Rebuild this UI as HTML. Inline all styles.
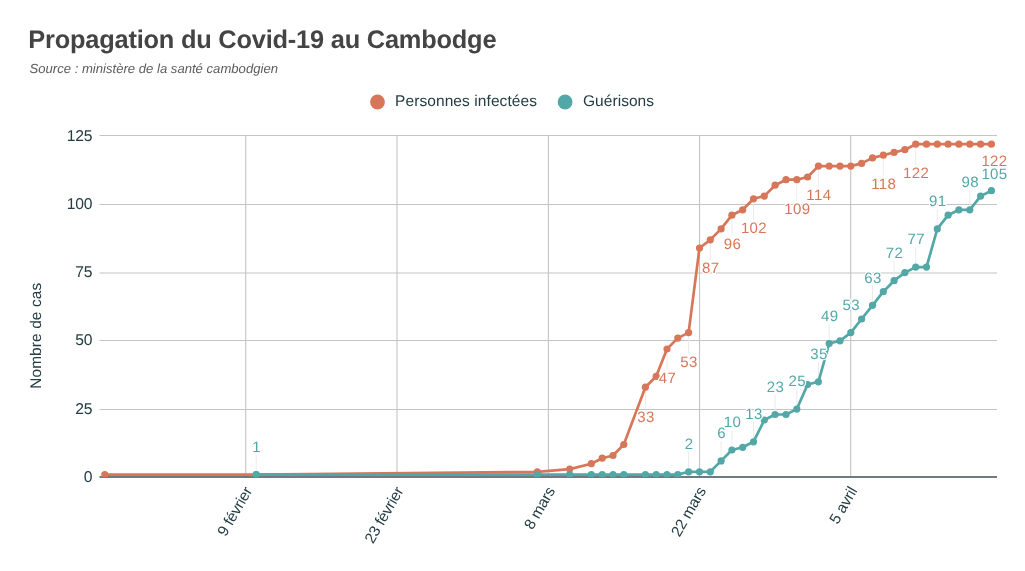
<!DOCTYPE html>
<html lang="fr"><head><meta charset="utf-8"><title>Propagation du Covid-19 au Cambodge</title>
<style>html,body{margin:0;padding:0;background:#fff}svg{display:block}</style></head>
<body>
<svg width="1025" height="571" viewBox="0 0 1025 571" font-family="'Liberation Sans', sans-serif" text-rendering="geometricPrecision">
<rect width="1025" height="571" fill="#fff"/>
<text x="28.3" y="48.4" font-size="25.4" font-weight="bold" fill="#444" textLength="468.2" lengthAdjust="spacing">Propagation du Covid-19 au Cambodge</text>
<text x="29.5" y="73" font-size="13.1" font-style="italic" fill="#5c5c5c" textLength="248.5" lengthAdjust="spacing">Source : ministère de la santé cambodgien</text>
<circle cx="377.5" cy="102" r="7.4" fill="#d77658"/>
<text x="395" y="105.8" font-size="15.5" fill="#233d42" textLength="142" lengthAdjust="spacing">Personnes infectées</text>
<circle cx="565.1" cy="102" r="7.4" fill="#53a7a7"/>
<text x="583" y="105.8" font-size="15.5" fill="#233d42" textLength="71" lengthAdjust="spacing">Guérisons</text>
<line x1="99.5" x2="997" y1="135.45" y2="135.45" stroke="#c4c4c4" stroke-width="1.1"/>
<line x1="99.5" x2="997" y1="204.45" y2="204.45" stroke="#c4c4c4" stroke-width="1.1"/>
<line x1="99.5" x2="997" y1="273.0" y2="273.0" stroke="#c4c4c4" stroke-width="1.1"/>
<line x1="99.5" x2="997" y1="340.5" y2="340.5" stroke="#c4c4c4" stroke-width="1.1"/>
<line x1="99.5" x2="997" y1="409.45" y2="409.45" stroke="#c4c4c4" stroke-width="1.1"/>
<line x1="245.7" x2="245.7" y1="135" y2="477" stroke="#c4c4c4" stroke-width="1.1"/>
<line x1="397.0" x2="397.0" y1="135" y2="477" stroke="#c4c4c4" stroke-width="1.1"/>
<line x1="548.4" x2="548.4" y1="135" y2="477" stroke="#c4c4c4" stroke-width="1.1"/>
<line x1="699.5" x2="699.5" y1="135" y2="477" stroke="#c4c4c4" stroke-width="1.1"/>
<line x1="850.7" x2="850.7" y1="135" y2="477" stroke="#c4c4c4" stroke-width="1.1"/>
<line x1="99.5" x2="997" y1="477" y2="477" stroke="#3f4f53" stroke-width="1.4"/>
<text x="92.4" y="482" font-size="15.7" text-anchor="end" fill="#233d42" letter-spacing="-0.2">0</text>
<text x="92.4" y="414" font-size="15.7" text-anchor="end" fill="#233d42" letter-spacing="-0.2">25</text>
<text x="92.4" y="344.8" font-size="15.7" text-anchor="end" fill="#233d42" letter-spacing="-0.2">50</text>
<text x="92.4" y="277" font-size="15.7" text-anchor="end" fill="#233d42" letter-spacing="-0.2">75</text>
<text x="92.4" y="208.6" font-size="15.7" text-anchor="end" fill="#233d42" letter-spacing="-0.2">100</text>
<text x="92.4" y="141" font-size="15.7" text-anchor="end" fill="#233d42" letter-spacing="-0.2">125</text>
<text transform="translate(41.4,335.8) rotate(-90)" font-size="15.4" text-anchor="middle" fill="#233d42" textLength="106" lengthAdjust="spacing">Nombre de cas</text>
<text transform="translate(252.7,490.7) rotate(-60)" font-size="15.4" letter-spacing="-0.2" text-anchor="end" fill="#233d42">9 février</text>
<text transform="translate(404.0,490.7) rotate(-60)" font-size="15.4" letter-spacing="-0.2" text-anchor="end" fill="#233d42">23 février</text>
<text transform="translate(555.4,490.7) rotate(-60)" font-size="15.4" letter-spacing="-0.2" text-anchor="end" fill="#233d42">8 mars</text>
<text transform="translate(706.5,490.7) rotate(-60)" font-size="15.4" letter-spacing="-0.2" text-anchor="end" fill="#233d42">22 mars</text>
<text transform="translate(857.7,490.7) rotate(-60)" font-size="15.4" letter-spacing="-0.2" text-anchor="end" fill="#233d42">5 avril</text>
<clipPath id="plot"><rect x="99" y="130" width="899" height="347.2"/></clipPath>
<line x1="645.4" x2="645.4" y1="390.7" y2="408.2" stroke="#ebebeb" stroke-width="1"/>
<line x1="667.0" x2="667.0" y1="352.5" y2="369.8" stroke="#ebebeb" stroke-width="1"/>
<line x1="688.6" x2="688.6" y1="336.1" y2="353.3" stroke="#ebebeb" stroke-width="1"/>
<line x1="710.3" x2="710.3" y1="243.3" y2="259.9" stroke="#ebebeb" stroke-width="1"/>
<line x1="731.9" x2="731.9" y1="218.7" y2="235.5" stroke="#ebebeb" stroke-width="1"/>
<line x1="753.5" x2="753.5" y1="202.3" y2="219.7" stroke="#ebebeb" stroke-width="1"/>
<line x1="796.8" x2="796.8" y1="183.2" y2="200.7" stroke="#ebebeb" stroke-width="1"/>
<line x1="818.4" x2="818.4" y1="169.6" y2="186.7" stroke="#ebebeb" stroke-width="1"/>
<line x1="883.3" x2="883.3" y1="158.7" y2="175.5" stroke="#ebebeb" stroke-width="1"/>
<line x1="915.7" x2="915.7" y1="147.7" y2="164.8" stroke="#ebebeb" stroke-width="1"/>
<line x1="256.2" x2="256.2" y1="454.7" y2="471.1" stroke="#ebebeb" stroke-width="1"/>
<line x1="688.6" x2="688.6" y1="452.0" y2="468.3" stroke="#ebebeb" stroke-width="1"/>
<line x1="721.1" x2="721.1" y1="441.4" y2="457.4" stroke="#ebebeb" stroke-width="1"/>
<line x1="731.9" x2="731.9" y1="430.0" y2="446.5" stroke="#ebebeb" stroke-width="1"/>
<line x1="753.5" x2="753.5" y1="422.0" y2="438.3" stroke="#ebebeb" stroke-width="1"/>
<line x1="775.1" x2="775.1" y1="394.7" y2="411.0" stroke="#ebebeb" stroke-width="1"/>
<line x1="796.8" x2="796.8" y1="389.1" y2="405.6" stroke="#ebebeb" stroke-width="1"/>
<line x1="818.4" x2="818.4" y1="361.9" y2="378.2" stroke="#ebebeb" stroke-width="1"/>
<line x1="829.2" x2="829.2" y1="323.8" y2="340.0" stroke="#ebebeb" stroke-width="1"/>
<line x1="850.8" x2="850.8" y1="312.6" y2="329.1" stroke="#ebebeb" stroke-width="1"/>
<line x1="872.5" x2="872.5" y1="285.5" y2="301.8" stroke="#ebebeb" stroke-width="1"/>
<line x1="894.1" x2="894.1" y1="261.2" y2="277.2" stroke="#ebebeb" stroke-width="1"/>
<line x1="915.7" x2="915.7" y1="247.2" y2="263.6" stroke="#ebebeb" stroke-width="1"/>
<line x1="937.3" x2="937.3" y1="209.2" y2="225.4" stroke="#ebebeb" stroke-width="1"/>
<line x1="969.8" x2="969.8" y1="190.2" y2="206.3" stroke="#ebebeb" stroke-width="1"/>
<g clip-path="url(#plot)">
<polyline fill="none" stroke="#d77658" stroke-width="2.7" stroke-linejoin="round" points="104.8,474.6 256.2,474.6 537.3,471.8 569.7,469.1 591.3,463.7 602.2,458.2 613.0,455.5 623.8,444.5 645.4,387.2 656.2,376.3 667.0,349.0 677.8,338.1 688.6,332.6 699.5,248.0 710.3,239.8 721.1,228.9 731.9,215.2 742.7,209.8 753.5,198.8 764.3,196.1 775.1,185.2 786.0,179.7 796.8,179.7 807.6,177.0 818.4,166.1 829.2,166.1 840.0,166.1 850.8,166.1 861.6,163.4 872.5,157.9 883.3,155.2 894.1,152.4 904.9,149.7 915.7,144.2 926.5,144.2 937.3,144.2 948.1,144.2 958.9,144.2 969.8,144.2 980.6,144.2 991.4,144.2"/>
<circle cx="104.8" cy="474.6" r="3.6" fill="#d77658"/>
<circle cx="256.2" cy="474.6" r="3.6" fill="#d77658"/>
<circle cx="537.3" cy="471.8" r="3.6" fill="#d77658"/>
<circle cx="569.7" cy="469.1" r="3.6" fill="#d77658"/>
<circle cx="591.3" cy="463.7" r="3.6" fill="#d77658"/>
<circle cx="602.2" cy="458.2" r="3.6" fill="#d77658"/>
<circle cx="613.0" cy="455.5" r="3.6" fill="#d77658"/>
<circle cx="623.8" cy="444.5" r="3.6" fill="#d77658"/>
<circle cx="645.4" cy="387.2" r="3.6" fill="#d77658"/>
<circle cx="656.2" cy="376.3" r="3.6" fill="#d77658"/>
<circle cx="667.0" cy="349.0" r="3.6" fill="#d77658"/>
<circle cx="677.8" cy="338.1" r="3.6" fill="#d77658"/>
<circle cx="688.6" cy="332.6" r="3.6" fill="#d77658"/>
<circle cx="699.5" cy="248.0" r="3.6" fill="#d77658"/>
<circle cx="710.3" cy="239.8" r="3.6" fill="#d77658"/>
<circle cx="721.1" cy="228.9" r="3.6" fill="#d77658"/>
<circle cx="731.9" cy="215.2" r="3.6" fill="#d77658"/>
<circle cx="742.7" cy="209.8" r="3.6" fill="#d77658"/>
<circle cx="753.5" cy="198.8" r="3.6" fill="#d77658"/>
<circle cx="764.3" cy="196.1" r="3.6" fill="#d77658"/>
<circle cx="775.1" cy="185.2" r="3.6" fill="#d77658"/>
<circle cx="786.0" cy="179.7" r="3.6" fill="#d77658"/>
<circle cx="796.8" cy="179.7" r="3.6" fill="#d77658"/>
<circle cx="807.6" cy="177.0" r="3.6" fill="#d77658"/>
<circle cx="818.4" cy="166.1" r="3.6" fill="#d77658"/>
<circle cx="829.2" cy="166.1" r="3.6" fill="#d77658"/>
<circle cx="840.0" cy="166.1" r="3.6" fill="#d77658"/>
<circle cx="850.8" cy="166.1" r="3.6" fill="#d77658"/>
<circle cx="861.6" cy="163.4" r="3.6" fill="#d77658"/>
<circle cx="872.5" cy="157.9" r="3.6" fill="#d77658"/>
<circle cx="883.3" cy="155.2" r="3.6" fill="#d77658"/>
<circle cx="894.1" cy="152.4" r="3.6" fill="#d77658"/>
<circle cx="904.9" cy="149.7" r="3.6" fill="#d77658"/>
<circle cx="915.7" cy="144.2" r="3.6" fill="#d77658"/>
<circle cx="926.5" cy="144.2" r="3.6" fill="#d77658"/>
<circle cx="937.3" cy="144.2" r="3.6" fill="#d77658"/>
<circle cx="948.1" cy="144.2" r="3.6" fill="#d77658"/>
<circle cx="958.9" cy="144.2" r="3.6" fill="#d77658"/>
<circle cx="969.8" cy="144.2" r="3.6" fill="#d77658"/>
<circle cx="980.6" cy="144.2" r="3.6" fill="#d77658"/>
<circle cx="991.4" cy="144.2" r="3.6" fill="#d77658"/>
<polyline fill="none" stroke="#53a7a7" stroke-width="2.7" stroke-linejoin="round" points="256.2,474.6 537.3,474.6 569.7,474.6 591.3,474.6 602.2,474.6 613.0,474.6 623.8,474.6 645.4,474.6 656.2,474.6 667.0,474.6 677.8,474.6 688.6,471.8 699.5,471.8 710.3,471.8 721.1,460.9 731.9,450.0 742.7,447.3 753.5,441.8 764.3,420.0 775.1,414.5 786.0,414.5 796.8,409.1 807.6,384.5 818.4,381.8 829.2,343.5 840.0,340.8 850.8,332.6 861.6,319.0 872.5,305.3 883.3,291.7 894.1,280.7 904.9,272.6 915.7,267.1 926.5,267.1 937.3,228.9 948.1,215.2 958.9,209.8 969.8,209.8 980.6,196.1 991.4,190.7"/>
<circle cx="256.2" cy="474.6" r="3.6" fill="#53a7a7"/>
<circle cx="537.3" cy="474.6" r="3.6" fill="#53a7a7"/>
<circle cx="569.7" cy="474.6" r="3.6" fill="#53a7a7"/>
<circle cx="591.3" cy="474.6" r="3.6" fill="#53a7a7"/>
<circle cx="602.2" cy="474.6" r="3.6" fill="#53a7a7"/>
<circle cx="613.0" cy="474.6" r="3.6" fill="#53a7a7"/>
<circle cx="623.8" cy="474.6" r="3.6" fill="#53a7a7"/>
<circle cx="645.4" cy="474.6" r="3.6" fill="#53a7a7"/>
<circle cx="656.2" cy="474.6" r="3.6" fill="#53a7a7"/>
<circle cx="667.0" cy="474.6" r="3.6" fill="#53a7a7"/>
<circle cx="677.8" cy="474.6" r="3.6" fill="#53a7a7"/>
<circle cx="688.6" cy="471.8" r="3.6" fill="#53a7a7"/>
<circle cx="699.5" cy="471.8" r="3.6" fill="#53a7a7"/>
<circle cx="710.3" cy="471.8" r="3.6" fill="#53a7a7"/>
<circle cx="721.1" cy="460.9" r="3.6" fill="#53a7a7"/>
<circle cx="731.9" cy="450.0" r="3.6" fill="#53a7a7"/>
<circle cx="742.7" cy="447.3" r="3.6" fill="#53a7a7"/>
<circle cx="753.5" cy="441.8" r="3.6" fill="#53a7a7"/>
<circle cx="764.3" cy="420.0" r="3.6" fill="#53a7a7"/>
<circle cx="775.1" cy="414.5" r="3.6" fill="#53a7a7"/>
<circle cx="786.0" cy="414.5" r="3.6" fill="#53a7a7"/>
<circle cx="796.8" cy="409.1" r="3.6" fill="#53a7a7"/>
<circle cx="807.6" cy="384.5" r="3.6" fill="#53a7a7"/>
<circle cx="818.4" cy="381.8" r="3.6" fill="#53a7a7"/>
<circle cx="829.2" cy="343.5" r="3.6" fill="#53a7a7"/>
<circle cx="840.0" cy="340.8" r="3.6" fill="#53a7a7"/>
<circle cx="850.8" cy="332.6" r="3.6" fill="#53a7a7"/>
<circle cx="861.6" cy="319.0" r="3.6" fill="#53a7a7"/>
<circle cx="872.5" cy="305.3" r="3.6" fill="#53a7a7"/>
<circle cx="883.3" cy="291.7" r="3.6" fill="#53a7a7"/>
<circle cx="894.1" cy="280.7" r="3.6" fill="#53a7a7"/>
<circle cx="904.9" cy="272.6" r="3.6" fill="#53a7a7"/>
<circle cx="915.7" cy="267.1" r="3.6" fill="#53a7a7"/>
<circle cx="926.5" cy="267.1" r="3.6" fill="#53a7a7"/>
<circle cx="937.3" cy="228.9" r="3.6" fill="#53a7a7"/>
<circle cx="948.1" cy="215.2" r="3.6" fill="#53a7a7"/>
<circle cx="958.9" cy="209.8" r="3.6" fill="#53a7a7"/>
<circle cx="969.8" cy="209.8" r="3.6" fill="#53a7a7"/>
<circle cx="980.6" cy="196.1" r="3.6" fill="#53a7a7"/>
<circle cx="991.4" cy="190.7" r="3.6" fill="#53a7a7"/>
</g>
<text x="645.9" y="421.7" font-size="15" text-anchor="middle" fill="#d77658" stroke="#fff" stroke-width="2.4" stroke-linejoin="round" paint-order="stroke" letter-spacing="0.4">33</text>
<text x="667.5" y="383.3" font-size="15" text-anchor="middle" fill="#d77658" stroke="#fff" stroke-width="2.4" stroke-linejoin="round" paint-order="stroke" letter-spacing="0.4">47</text>
<text x="689.1" y="366.8" font-size="15" text-anchor="middle" fill="#d77658" stroke="#fff" stroke-width="2.4" stroke-linejoin="round" paint-order="stroke" letter-spacing="0.4">53</text>
<text x="710.8" y="273.4" font-size="15" text-anchor="middle" fill="#d77658" stroke="#fff" stroke-width="2.4" stroke-linejoin="round" paint-order="stroke" letter-spacing="0.4">87</text>
<text x="732.4" y="249.0" font-size="15" text-anchor="middle" fill="#d77658" stroke="#fff" stroke-width="2.4" stroke-linejoin="round" paint-order="stroke" letter-spacing="0.4">96</text>
<text x="754.0" y="233.2" font-size="15" text-anchor="middle" fill="#d77658" stroke="#fff" stroke-width="2.4" stroke-linejoin="round" paint-order="stroke" letter-spacing="0.4">102</text>
<text x="797.3" y="214.2" font-size="15" text-anchor="middle" fill="#d77658" stroke="#fff" stroke-width="2.4" stroke-linejoin="round" paint-order="stroke" letter-spacing="0.4">109</text>
<text x="818.9" y="200.2" font-size="15" text-anchor="middle" fill="#d77658" stroke="#fff" stroke-width="2.4" stroke-linejoin="round" paint-order="stroke" letter-spacing="0.4">114</text>
<text x="883.8" y="189.0" font-size="15" text-anchor="middle" fill="#d77658" stroke="#fff" stroke-width="2.4" stroke-linejoin="round" paint-order="stroke" letter-spacing="0.4">118</text>
<text x="916.2" y="178.3" font-size="15" text-anchor="middle" fill="#d77658" stroke="#fff" stroke-width="2.4" stroke-linejoin="round" paint-order="stroke" letter-spacing="0.4">122</text>
<text x="994.5" y="165.6" font-size="15" text-anchor="middle" fill="#d77658" stroke="#fff" stroke-width="2.4" stroke-linejoin="round" paint-order="stroke" letter-spacing="0.4">122</text>
<text x="256.7" y="451.7" font-size="15" text-anchor="middle" fill="#53a7a7" stroke="#fff" stroke-width="2.4" stroke-linejoin="round" paint-order="stroke" letter-spacing="0.4">1</text>
<text x="689.1" y="449" font-size="15" text-anchor="middle" fill="#53a7a7" stroke="#fff" stroke-width="2.4" stroke-linejoin="round" paint-order="stroke" letter-spacing="0.4">2</text>
<text x="721.6" y="438.4" font-size="15" text-anchor="middle" fill="#53a7a7" stroke="#fff" stroke-width="2.4" stroke-linejoin="round" paint-order="stroke" letter-spacing="0.4">6</text>
<text x="732.4" y="427" font-size="15" text-anchor="middle" fill="#53a7a7" stroke="#fff" stroke-width="2.4" stroke-linejoin="round" paint-order="stroke" letter-spacing="0.4">10</text>
<text x="754.0" y="419" font-size="15" text-anchor="middle" fill="#53a7a7" stroke="#fff" stroke-width="2.4" stroke-linejoin="round" paint-order="stroke" letter-spacing="0.4">13</text>
<text x="775.6" y="391.7" font-size="15" text-anchor="middle" fill="#53a7a7" stroke="#fff" stroke-width="2.4" stroke-linejoin="round" paint-order="stroke" letter-spacing="0.4">23</text>
<text x="797.3" y="386.1" font-size="15" text-anchor="middle" fill="#53a7a7" stroke="#fff" stroke-width="2.4" stroke-linejoin="round" paint-order="stroke" letter-spacing="0.4">25</text>
<text x="818.9" y="358.9" font-size="15" text-anchor="middle" fill="#53a7a7" stroke="#fff" stroke-width="2.4" stroke-linejoin="round" paint-order="stroke" letter-spacing="0.4">35</text>
<text x="829.7" y="320.8" font-size="15" text-anchor="middle" fill="#53a7a7" stroke="#fff" stroke-width="2.4" stroke-linejoin="round" paint-order="stroke" letter-spacing="0.4">49</text>
<text x="851.3" y="309.6" font-size="15" text-anchor="middle" fill="#53a7a7" stroke="#fff" stroke-width="2.4" stroke-linejoin="round" paint-order="stroke" letter-spacing="0.4">53</text>
<text x="873.0" y="282.5" font-size="15" text-anchor="middle" fill="#53a7a7" stroke="#fff" stroke-width="2.4" stroke-linejoin="round" paint-order="stroke" letter-spacing="0.4">63</text>
<text x="894.6" y="258.2" font-size="15" text-anchor="middle" fill="#53a7a7" stroke="#fff" stroke-width="2.4" stroke-linejoin="round" paint-order="stroke" letter-spacing="0.4">72</text>
<text x="916.2" y="244.2" font-size="15" text-anchor="middle" fill="#53a7a7" stroke="#fff" stroke-width="2.4" stroke-linejoin="round" paint-order="stroke" letter-spacing="0.4">77</text>
<text x="937.8" y="206.2" font-size="15" text-anchor="middle" fill="#53a7a7" stroke="#fff" stroke-width="2.4" stroke-linejoin="round" paint-order="stroke" letter-spacing="0.4">91</text>
<text x="970.3" y="187.2" font-size="15" text-anchor="middle" fill="#53a7a7" stroke="#fff" stroke-width="2.4" stroke-linejoin="round" paint-order="stroke" letter-spacing="0.4">98</text>
<text x="994.5" y="179.3" font-size="15" text-anchor="middle" fill="#53a7a7" stroke="#fff" stroke-width="2.4" stroke-linejoin="round" paint-order="stroke" letter-spacing="0.4">105</text>
</svg>
</body></html>
